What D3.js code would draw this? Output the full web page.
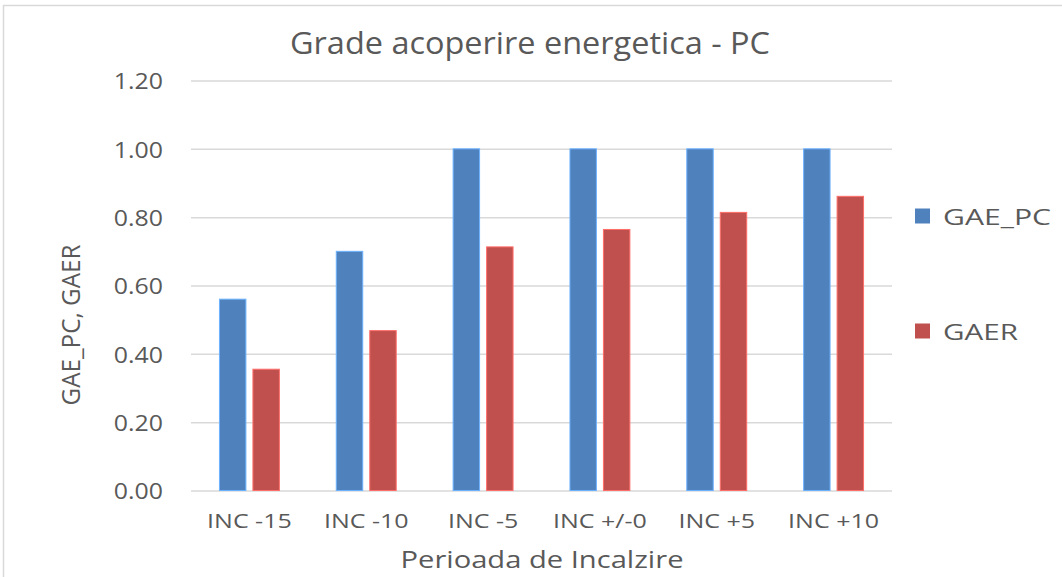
<!DOCTYPE html>
<head>
  <meta charset="utf-8">
  <script src="https://cdnjs.cloudflare.com/ajax/libs/d3/7.8.5/d3.min.js"></script>
</head>

<style>
  body { margin: 0; background: #fff; }
  svg { font-family: "Open Sans", sans-serif; }
  .axis path.domain { display: none; }
  .grid line { stroke: #d9d9d9; stroke-width: 1.5; }
  .axis text, .lbl { fill: #595959; }
</style>

<body>
  <svg width="1062" height="577" viewBox="0 0 1062 577" class="chart"></svg>

  <script>
  // values
  const categories = ["INC -15", "INC -10", "INC -5", "INC +/-0", "INC +5", "INC +10"];
  const seriesNames = ["GAE_PC", "GAER"];
  const gaePc = [0.56, 0.70, 1.00, 1.00, 1.00, 1.00];
  const gaer = [0.355, 0.468, 0.713, 0.764, 0.814, 0.861];
  const yTicks = [0, 0.2, 0.4, 0.6, 0.8, 1.0, 1.2];
  const colors = ["#4f81bd", "#c0504d"];

  let svg = d3.select(".chart");

  let plot = {left: 191, right: 892, top: 80.5, bottom: 490.5};

  // chart border
  svg.append("rect")
      .attr("x", 3.5).attr("y", 5.5)
      .attr("width", 1070).attr("height", 590)
      .attr("fill", "none")
      .attr("stroke", "#d9d9d9")
      .attr("stroke-width", 1.5);

  let x = d3.scaleBand().domain(categories).range([plot.left, plot.right]);
  let x1 = d3.scaleBand().domain(seriesNames).range([0, x.bandwidth()])
      .paddingInner(0.21).paddingOuter(0.85);
  let y = d3.scaleLinear().domain([0, 1.2]).range([plot.bottom, plot.top]);
  let color = d3.scaleOrdinal().domain(seriesNames).range(colors);

  // stretch text horizontally by a factor
  function stretch(sel, k) {
    sel.each(function() {
      let w = this.getComputedTextLength();
      d3.select(this).attr("textLength", w * k).attr("lengthAdjust", "spacingAndGlyphs");
    });
  }

  // y axis with gridlines
  let yAxis = svg.append("g")
      .attr("class", "axis grid")
      .attr("transform", "translate(" + plot.left + ",0)")
      .call(d3.axisLeft(y)
        .tickValues(yTicks)
        .tickFormat(d3.format(".2f"))
        .tickSize(-(plot.right - plot.left))
        .tickPadding(28));
  yAxis.selectAll("text")
      .attr("font-size", 22)
      .attr("font-family", "Open Sans")
      .attr("dy", "0.38em")
      .call(stretch, 1.13);

  // x axis labels
  let xAxis = svg.append("g")
      .attr("class", "axis")
      .attr("transform", "translate(0," + plot.bottom + ")")
      .call(d3.axisBottom(x).tickSize(0).tickPadding(23));
  xAxis.selectAll("text")
      .attr("font-size", 20)
      .attr("font-family", "Open Sans")
      .call(stretch, 1.25);

  // bars
  let rows = categories.map((c, i) => ({cat: c, values: [gaePc[i], gaer[i]]}));

  let groups = svg.append("g").selectAll("g")
    .data(rows)
    .enter().append("g")
      .attr("transform", d => "translate(" + x(d.cat) + ",0)");

  groups.selectAll("rect")
    .data(d => d.values.map((v, j) => ({name: seriesNames[j], value: v})))
    .enter().append("rect")
      .attr("x", d => x1(d.name))
      .attr("y", d => y(d.value))
      .attr("width", x1.bandwidth())
      .attr("height", d => y(0) - y(d.value))
      .attr("fill", d => color(d.name))
      .attr("stroke", d => d3.color(color(d.name)).brighter(0.9))
      .attr("stroke-width", 1);

  // title
  svg.append("text")
      .attr("class", "lbl")
      .attr("x", 530).attr("y", 54.3)
      .attr("text-anchor", "middle")
      .attr("font-size", 31)
      .attr("textLength", 480).attr("lengthAdjust", "spacingAndGlyphs")
      .text("Grade acoperire energetica - PC");

  // x axis title
  svg.append("text")
      .attr("class", "lbl")
      .attr("x", 542).attr("y", 568)
      .attr("text-anchor", "middle")
      .attr("font-size", 23)
      .attr("textLength", 283).attr("lengthAdjust", "spacingAndGlyphs")
      .text("Perioada de Incalzire");

  // y axis title
  svg.append("text")
      .attr("class", "lbl")
      .attr("transform", "translate(79.5,325) rotate(-90)")
      .attr("text-anchor", "middle")
      .attr("font-size", 26)
      .attr("textLength", 161).attr("lengthAdjust", "spacingAndGlyphs")
      .text("GAE_PC, GAER");

  // legend
  let legendY = d3.scalePoint().domain(seriesNames).range([216, 331]);
  let legendW = [108, 75];

  let legend = svg.append("g").selectAll("g")
    .data(seriesNames)
    .enter().append("g")
      .attr("transform", d => "translate(915," + legendY(d) + ")");

  legend.append("rect")
      .attr("x", 0).attr("y", -7.5)
      .attr("width", 15).attr("height", 15)
      .attr("fill", d => color(d));

  legend.append("text")
      .attr("class", "lbl")
      .attr("x", 28).attr("y", 9)
      .attr("font-size", 22)
      .attr("textLength", (d, i) => legendW[i]).attr("lengthAdjust", "spacingAndGlyphs")
      .text(d => d);
  </script>
</body>
</html>
